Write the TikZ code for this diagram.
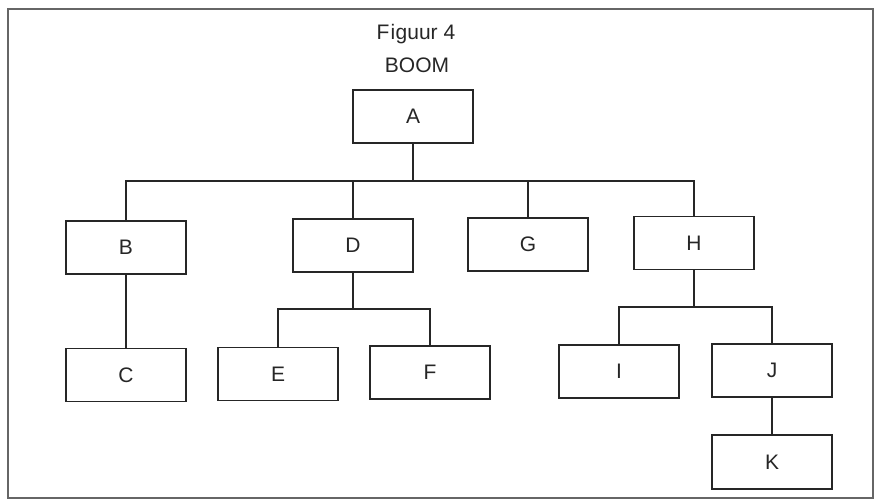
\documentclass[tikz,border=0pt]{standalone}
\usepackage{fontspec}
\setmainfont{Liberation Sans}
\begin{document}
\begin{tikzpicture}[x=1pt,y={(0,-1pt)},
  box/.style={draw=black!85,line width=1.3pt,minimum width=120pt,minimum height=53pt,inner sep=0pt,font=\fontsize{21}{25}\selectfont,text=black!85},
  link/.style={draw=black!85,line width=1.3pt},
  ttl/.style={font=\fontsize{21}{25}\selectfont,text=black!85,anchor=base,inner sep=0pt}]
\useasboundingbox (0,0) rectangle (880,501);
\draw[black!60,line width=1.5pt] (8,9) rectangle (873,498);
\node[ttl] (t1) at (416,39) {F\kern1pt i\kern0.5pt guur 4};
\node[ttl] (t2) at (417,72) {BOOM};
\node[box] (A) at (413,116.5) {A};
\node[box] (B) at (126,247.5) {B};
\node[box] (C) at (126,375) {C};
\node[box] (D) at (353,245.5) {D};
\node[box] (E) at (278,374) {E};
\node[box] (F) at (430,372.5) {F};
\node[box] (G) at (528,244.5) {G};
\node[box] (H) at (694,243) {H};
\node[box] (I) at (619,371.5) {I};
\node[box] (J) at (772,370.5) {J};
\node[box,minimum height=54pt] (K) at (772,462) {K};
\coordinate (busA) at (413,181);
\coordinate (busD) at (353,309);
\coordinate (busH) at (694,307);
\draw[link] (A.south) -- (busA);
\draw[link] (B.north) |- (busA) -| (H.north);
\draw[link] (D.north) -- (D.north |- busA);
\draw[link] (G.north) -- (G.north |- busA);
\draw[link] (B.south) -- (C.north);
\draw[link] (D.south) -- (busD);
\draw[link] (E.north) |- (busD) -| (F.north);
\draw[link] (H.south) -- (busH);
\draw[link] (I.north) |- (busH) -| (J.north);
\draw[link] (J.south) -- (K.north);
\end{tikzpicture}
\end{document}
